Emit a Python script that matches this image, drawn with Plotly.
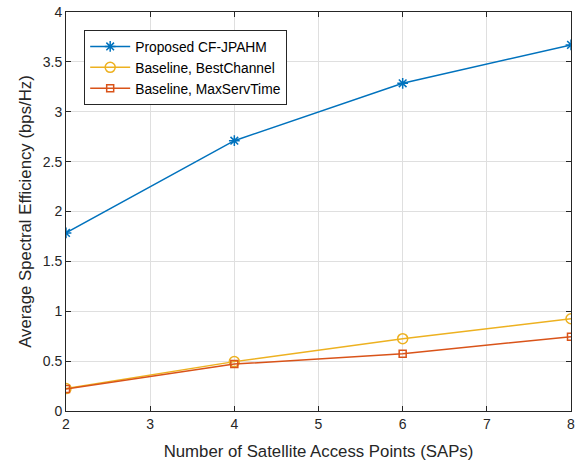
import plotly.graph_objects as go

saps = [2, 4, 6, 8]
proposed = [1.785, 2.71, 3.285, 3.67]
best_channel = [0.225, 0.495, 0.725, 0.925]
max_serv_time = [0.22, 0.47, 0.575, 0.745]

x_ticks = [2, 3, 4, 5, 6, 7, 8]
y_ticks = [0, 0.5, 1, 1.5, 2, 2.5, 3, 3.5, 4]
y_tick_labels = ["0", "0.5", "1", "1.5", "2", "2.5", "3", "3.5", "4"]

FONT = "Liberation Sans, Arial, sans-serif"

fig = go.Figure()
fig.add_trace(go.Scatter(x=saps, y=proposed, mode="lines+markers", name="Proposed CF-JPAHM",
                         line=dict(color="#0072BD", width=1.5),
                         marker=dict(symbol="asterisk-open", size=9, color="#0072BD",
                                     line=dict(color="#0072BD", width=1.5))))
fig.add_trace(go.Scatter(x=saps, y=best_channel, mode="lines+markers", name="Baseline, BestChannel",
                         line=dict(color="#EDB120", width=1.5),
                         marker=dict(symbol="circle-open", size=10, color="#EDB120",
                                     line=dict(color="#EDB120", width=1.5))))
fig.add_trace(go.Scatter(x=saps, y=max_serv_time, mode="lines+markers", name="Baseline, MaxServTime",
                         line=dict(color="#D95319", width=1.5),
                         marker=dict(symbol="square-open", size=7, color="#D95319",
                                     line=dict(color="#D95319", width=1.5))))

axis_common = dict(showgrid=True, gridcolor="#DFDFDF", gridwidth=1,
                   showline=True, linecolor="#262626", linewidth=1, mirror="ticks",
                   ticks="inside", ticklen=5, tickcolor="#262626", zeroline=False,
                   ticklabeloverflow="allow",
                   tickfont=dict(family=FONT, size=14, color="#262626"))

fig.update_xaxes(range=[2, 8], tickvals=x_ticks,
                 title=dict(text="Number of Satellite Access Points (SAPs)",
                            font=dict(family=FONT, size=16.8, color="#262626"),
                            standoff=14),
                 **axis_common)
fig.update_yaxes(range=[0, 4], tickvals=y_ticks, ticktext=y_tick_labels,
                 title=dict(text="Average Spectral Efficiency (bps/Hz)",
                            font=dict(family=FONT, size=16.8, color="#262626"),
                            standoff=6),
                 **axis_common)

fig.update_layout(width=578, height=464,
                  margin=dict(l=66, r=7, t=12, b=53, autoexpand=False),
                  paper_bgcolor="white", plot_bgcolor="white",
                  showlegend=True,
                  legend=dict(x=0.036, y=0.955, xanchor="left", yanchor="top",
                              bgcolor="white", bordercolor="#262626", borderwidth=1,
                              font=dict(family=FONT, size=13.8, color="#000000"),
                              tracegroupgap=0, itemwidth=40))

fig.write_html("out.html",
               config={"displayModeBar": False},
               post_script="document.body.style.margin='0';document.body.style.overflow='hidden';")
